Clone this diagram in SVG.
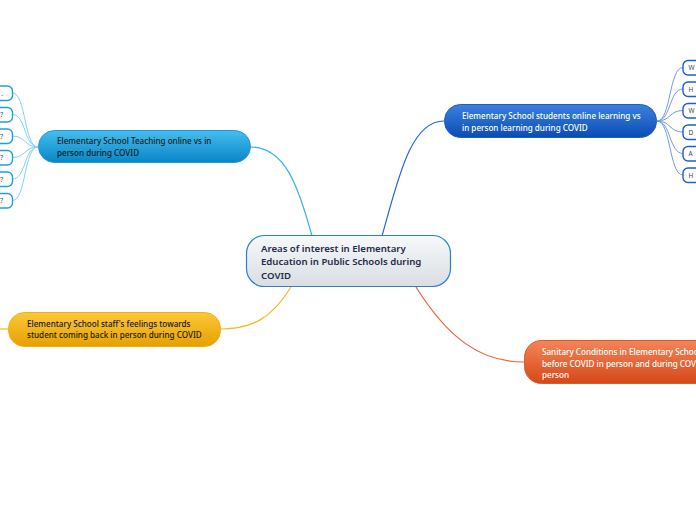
<svg xmlns="http://www.w3.org/2000/svg" width="696" height="520" viewBox="0 0 696 520">
<defs>
<linearGradient id="gCenter" x1="0" y1="0" x2="0" y2="1"><stop offset="0" stop-color="#f7f8fa"/><stop offset="1" stop-color="#d9dee3"/></linearGradient>
<linearGradient id="gLB" x1="0" y1="0" x2="0" y2="1"><stop offset="0" stop-color="#45bdf0"/><stop offset="1" stop-color="#0a86c6"/></linearGradient>
<linearGradient id="gDB" x1="0" y1="0" x2="0" y2="1"><stop offset="0" stop-color="#3a82de"/><stop offset="1" stop-color="#0b4cb4"/></linearGradient>
<linearGradient id="gY" x1="0" y1="0" x2="0" y2="1"><stop offset="0" stop-color="#fbc838"/><stop offset="1" stop-color="#e6a000"/></linearGradient>
<linearGradient id="gO" x1="0" y1="0" x2="0" y2="1"><stop offset="0" stop-color="#f4855a"/><stop offset="1" stop-color="#d54818"/></linearGradient>
</defs>
<style>
text{font-family:"Noto Sans","Open Sans","DejaVu Sans",sans-serif}
.t{font-size:8.1px;fill:#1a1a1a;font-weight:500}
.w{font-size:8.1px;fill:#ffffff;font-weight:500}
.c{font-size:9.6px;fill:#1e2a48;font-weight:600}
.s{font-size:6.5px;fill:#444}
.lb{fill:#fff;stroke:#1e9fe0;stroke-width:1.4}
.rb{fill:#fff;stroke:#1f5cd6;stroke-width:1.4}
.cn{fill:none;stroke-width:1.2}
</style>
<g id="connectors">
<path class="cn" stroke="#3ab2ea" d="M250,147 C285,147 298,185 312,236"/>
<path class="cn" stroke="#2466d2" d="M382,236 C398,180 410,121 444,121"/>
<path class="cn" stroke="#f5ba22" d="M291,287 C272,318 252,329 221,329"/>
<path class="cn" stroke="#e8643a" d="M416,287 C448,338 480,362 524,362"/>
<path class="cn" stroke="#f5ba22" d="M0,329 L8,329"/>
<g stroke="#86d2f4" fill="none" stroke-width="1">
<path d="M38,147 C24,147 26,93 12.5,93"/>
<path d="M38,147 C24,147 26,114.5 12.5,114.5"/>
<path d="M38,147 C24,147 26,136 12.5,136"/>
<path d="M38,147 C24,147 26,157.5 12.5,157.5"/>
<path d="M38,147 C24,147 26,179 12.5,179"/>
<path d="M38,147 C24,147 26,200.5 12.5,200.5"/>
</g>
<g stroke="#6e9ce6" fill="none" stroke-width="1">
<path d="M657,121 C671,121 669,67.5 683,67.5"/>
<path d="M657,121 C671,121 669,89 683,89"/>
<path d="M657,121 C671,121 669,110.5 683,110.5"/>
<path d="M657,121 C671,121 669,132 683,132"/>
<path d="M657,121 C671,121 669,153.5 683,153.5"/>
<path d="M657,121 C671,121 669,175 683,175"/>
</g>
</g>
<g id="center">
<rect x="246.5" y="235.5" width="204" height="51" rx="18" fill="url(#gCenter)" stroke="#2b80d2" stroke-width="1.2"/>
<text class="c" x="261" y="251.5">Areas of interest in Elementary</text>
<text class="c" x="261" y="265">Education in Public Schools during</text>
<text class="c" x="261" y="278.5">COVID</text>
</g>
<g id="teaching">
<rect x="38.5" y="130.5" width="212" height="32" rx="16" fill="url(#gLB)" stroke="#1a9ad8" stroke-width="1"/>
<text class="t" x="57" y="144">Elementary School Teaching online vs in</text>
<text class="t" x="57" y="155.5">person during COVID</text>
</g>
<g id="students">
<rect x="444.5" y="104.5" width="212" height="33" rx="16" fill="url(#gDB)" stroke="#1a5cc8" stroke-width="1"/>
<text class="w" x="462" y="119">Elementary School students online learning vs</text>
<text class="w" x="462" y="130.5">in person learning during COVID</text>
</g>
<g id="staff">
<rect x="8.5" y="312.5" width="212" height="34" rx="16" fill="url(#gY)" stroke="#f0b010" stroke-width="1"/>
<text class="t" x="27" y="326.5">Elementary School staff's feelings towards</text>
<text class="t" x="27" y="338">student coming back in person during COVID</text>
</g>
<g id="sanitary">
<rect x="524.5" y="340.5" width="212" height="43" rx="17" fill="url(#gO)" stroke="#e05a28" stroke-width="1"/>
<text class="w" x="542" y="355">Sanitary Conditions in Elementary Schools</text>
<text class="w" x="542" y="366.5">before COVID in person and during COVID in</text>
<text class="w" x="542" y="378">person</text>
</g>
<g id="left-children">
<rect class="lb" x="-30" y="86" width="42.5" height="14.5" rx="5"/><text class="s" x="3" y="95.5" text-anchor="end">.</text>
<rect class="lb" x="-30" y="107.5" width="42.5" height="14.5" rx="5"/><text class="s" x="3" y="117" text-anchor="end">?</text>
<rect class="lb" x="-30" y="129" width="42.5" height="14.5" rx="5"/><text class="s" x="3" y="138.5" text-anchor="end">?</text>
<rect class="lb" x="-30" y="150.5" width="42.5" height="14.5" rx="5"/><text class="s" x="3" y="160" text-anchor="end">?</text>
<rect class="lb" x="-30" y="172" width="42.5" height="14.5" rx="5"/><text class="s" x="3" y="181.5" text-anchor="end">?</text>
<rect class="lb" x="-30" y="193.5" width="42.5" height="14.5" rx="5"/><text class="s" x="3" y="203" text-anchor="end">?</text>
</g>
<g id="right-children">
<rect class="rb" x="683" y="60.5" width="40" height="14.5" rx="5"/><text class="s" x="688.5" y="70">W</text>
<rect class="rb" x="683" y="82" width="40" height="14.5" rx="5"/><text class="s" x="688.5" y="91.5">H</text>
<rect class="rb" x="683" y="103.5" width="40" height="14.5" rx="5"/><text class="s" x="688.5" y="113">W</text>
<rect class="rb" x="683" y="125" width="40" height="14.5" rx="5"/><text class="s" x="688.5" y="134.5">D</text>
<rect class="rb" x="683" y="146.5" width="40" height="14.5" rx="5"/><text class="s" x="688.5" y="156">A</text>
<rect class="rb" x="683" y="168" width="40" height="14.5" rx="5"/><text class="s" x="688.5" y="177.5">H</text>
</g>
</svg>
